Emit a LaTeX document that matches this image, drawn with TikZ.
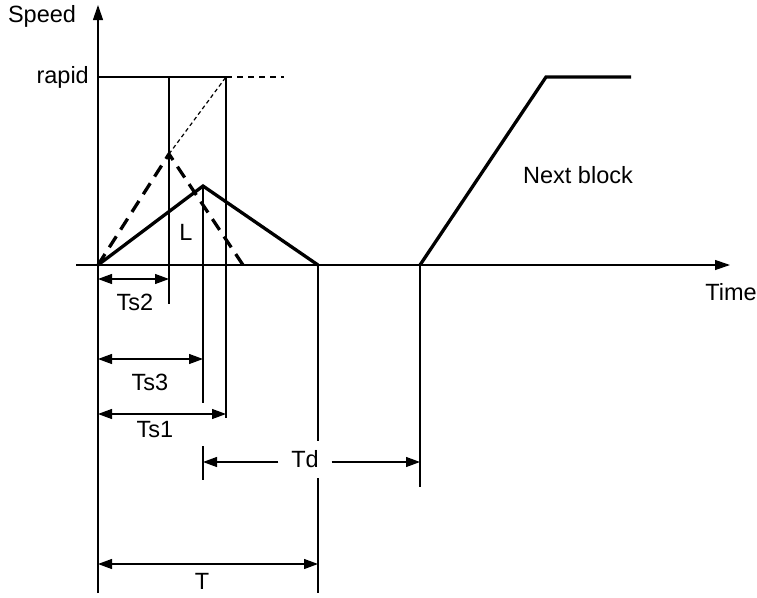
\documentclass[tikz,border=0pt]{standalone}
\usepackage{fontspec}
\setmainfont{Liberation Sans}
\usetikzlibrary{arrows.meta}
\begin{document}
\begin{tikzpicture}[x=1pt,y=-1pt,
  thinline/.style={line width=1.2pt},
  thickline/.style={line width=3.3pt, line join=miter, line cap=butt},
  dimline/.style={line width=1.2pt, {Triangle[length=14pt,width=10pt]}-{Triangle[length=14pt,width=10pt]}},
  oneway/.style={line width=1.2pt, -{Triangle[length=14pt,width=10pt]}},
  axisarrow/.style={line width=1.2pt, -{Triangle[length=15pt,width=10pt]}},
  lbl/.style={font=\fontsize{23.5}{28}\selectfont, inner sep=0pt},
]
\useasboundingbox (0,0) rectangle (757,597);

% key points
\coordinate (O) at (98,265);
\coordinate (ytop) at (98,5);
\coordinate (ybot) at (98,593);
\coordinate (xl) at (76,265);
\coordinate (xr) at (730,265);
\coordinate (r1) at (226,77);
\coordinate (r2) at (284,77);
\coordinate (dpk) at (169,154);
\coordinate (dend) at (243,265);
\coordinate (spk) at (203,186);
\coordinate (send) at (318,265);
\coordinate (n0) at (420,265);
\coordinate (n1) at (546,77);
\coordinate (n2) at (631,77);
\coordinate (tdA) at (203,462);
\coordinate (tdB) at (420,462);

% axes
\draw[axisarrow] (ybot) -- (ytop);
\draw[axisarrow] (xl) -- (xr);

% rapid level
\draw[thinline] (98,77) -- (r1);
\draw[thinline, dash pattern=on 6pt off 5pt] (r1) -- (r2);

% vertical guide lines
\draw[thinline] (169,77) -- (169,304);
\draw[thinline] (r1) -- (226,418);
\draw[thinline] (spk) -- (203,403);
\draw[thinline] (send) -- (318,593);
\draw[thinline] (n0) -- (420,487);
\draw[thinline] (203,446) -- (203,480);

% dotted extension to rapid
\draw[thinline, dash pattern=on 4pt off 3pt] (dpk) -- (r1);

% speed profiles
\draw[thickline, dash pattern=on 13pt off 8pt] (O) -- (dpk) -- (dend);
\draw[thickline] (O) -- (spk) -- (send);
\draw[thickline] (n0) -- (n1) -- (n2);

% dimension arrows
\draw[dimline] (98,279) -- (169,279);
\draw[dimline] (98,359) -- (203,359);
\draw[dimline] (98,414) -- (226,414);
\draw[dimline] (98,564) -- (318,564);

% labels
\node[lbl, anchor=base] (speed) at (42,23) {Speed};
\node[lbl, anchor=base east] (rapid) at (89,83) {rapid};
\node[lbl, anchor=base] (L) at (186,240) {L};
\node[lbl, anchor=base] (next) at (578,183) {Next block};
\node[lbl, anchor=base] (time) at (731,300) {Time};
\node[lbl, anchor=base] (ts2) at (135,310) {Ts2};
\node[lbl, anchor=base] (ts3) at (150,390) {Ts3};
\node[lbl, anchor=base] (ts1) at (155,437) {Ts1};
\node[lbl, anchor=base] (T) at (202,589) {T};
\node[lbl, fill=white, minimum width=53pt, minimum height=37pt] (td) at (305,459.5) {Td};

\draw[oneway] (td.west |- tdA) -- (tdA);
\draw[oneway] (td.east |- tdB) -- (tdB);
\end{tikzpicture}
\end{document}
